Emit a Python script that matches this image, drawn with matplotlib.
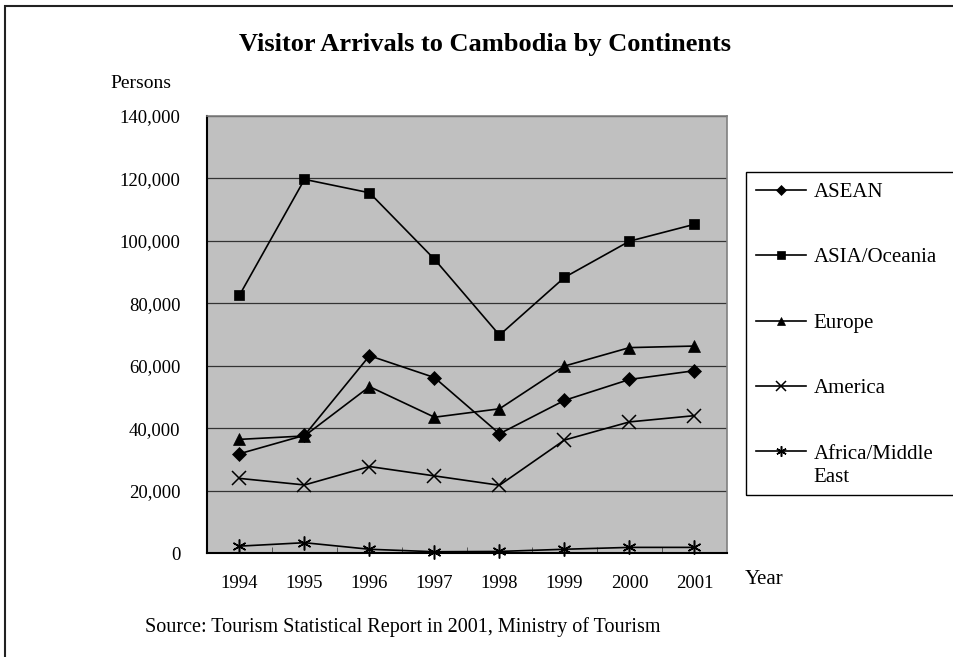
import matplotlib
matplotlib.use("Agg")
import matplotlib.pyplot as plt
from matplotlib.patches import Rectangle
from matplotlib.ticker import FuncFormatter, MultipleLocator, FixedLocator

plt.rcParams['font.family'] = ['Liberation Serif', 'DejaVu Serif']

years = ["1994", "1995", "1996", "1997", "1998", "1999", "2000", "2001"]
asean = [31800, 37700, 63200, 56200, 38200, 48900, 55600, 58400]
asia_oceania = [82600, 119700, 115400, 94100, 69800, 88300, 99900, 105300]
europe = [36400, 37500, 53300, 43500, 46200, 59900, 65800, 66300]
america = [23900, 21800, 27700, 24700, 21700, 36200, 42000, 44000]
africa_me = [2200, 3300, 1200, 400, 500, 1200, 1800, 1800]

series = [
    ("ASEAN", asean, "D", 7),
    ("ASIA/Oceania", asia_oceania, "s", 7.5),
    ("Europe", europe, "^", 8.5),
    ("America", america, "x", 9.5),
    ("Africa/Middle", africa_me, (6, 2, 0), 10),
]

W, H = 954, 657
fig = plt.figure(figsize=(W / 100, H / 100), dpi=100)

# outer frame of the chart area (open to the right and bottom)
fig.add_artist(Rectangle((5 / W, -0.05), 1.2, 1 - 6 / H + 0.05,
                         transform=fig.transFigure, fill=False,
                         edgecolor="#222222", linewidth=1.5))

ax = fig.add_axes([207 / W, 1 - 553 / H, 520 / W, 437 / H])
ax.set_facecolor("#C0C0C0")

x = list(range(len(years)))
for name, vals, marker, ms in series:
    kw = dict(color="black", linewidth=1.2, marker=marker, markersize=ms,
              label=name, markeredgecolor="black")
    if marker == "x" or isinstance(marker, tuple):
        kw["markeredgewidth"] = 1.1
    else:
        kw["markerfacecolor"] = "black"
        kw["markeredgewidth"] = 0.5
    ax.plot(x, vals, clip_on=False, **kw)

ax.set_xlim(-0.5, len(years) - 0.5)
ax.set_ylim(0, 140000)
ax.yaxis.set_major_locator(MultipleLocator(20000))
ax.yaxis.set_major_formatter(FuncFormatter(lambda v, p: f"{int(v):,}"))
ax.grid(axis="y", color="#333333", linewidth=0.9)
ax.set_axisbelow(True)

ax.set_xticks(x)
ax.set_xticklabels(years)
ax.xaxis.set_minor_locator(FixedLocator([i + 0.5 for i in range(len(years) - 1)]))
ax.tick_params(axis="x", which="major", length=0, pad=16, labelsize=13.5)
ax.tick_params(axis="x", which="minor", direction="in", length=4, color="#444444")
ax.tick_params(axis="y", direction="out", length=0, pad=19, labelsize=13.5)

for side in ("left", "bottom"):
    ax.spines[side].set_color("black")
    ax.spines[side].set_linewidth(1.5)
for side in ("top", "right"):
    ax.spines[side].set_color("#808080")
    ax.spines[side].set_linewidth(1.2)

fig.text(485 / W, 1 - 45 / H, "Visitor Arrivals to Cambodia by Continents",
         ha="center", va="center", fontsize=19, fontweight="bold")
fig.text(110 / W, 1 - 84 / H, "Persons", ha="left", va="center", fontsize=14)
fig.text(745 / W, 1 - 580 / H, "Year", ha="left", va="center", fontsize=15)
fig.text(145 / W, 1 - 627 / H,
         "Source: Tourism Statistical Report in 2001, Ministry of Tourism",
         ha="left", va="center", fontsize=14.5)

# legend box runs past the right edge of the figure
fig.add_artist(Rectangle((746 / W, 1 - 495 / H), 0.5, (495 - 172) / H,
                         transform=fig.transFigure, fill=False,
                         edgecolor="black", linewidth=1.0))
fig.legend(loc="upper left", bbox_to_anchor=(746 / W, 1 - 172 / H),
           frameon=False, fontsize=15, handlelength=2.4, handletextpad=0.35,
           labelspacing=2.2, borderpad=0.5, borderaxespad=0,
           markerscale=0.75)
# wrapped second line of the last legend label
fig.text(813 / W, 1 - 478 / H, "East", ha="left", va="center", fontsize=15)

fig.savefig("out.png", dpi=100)
